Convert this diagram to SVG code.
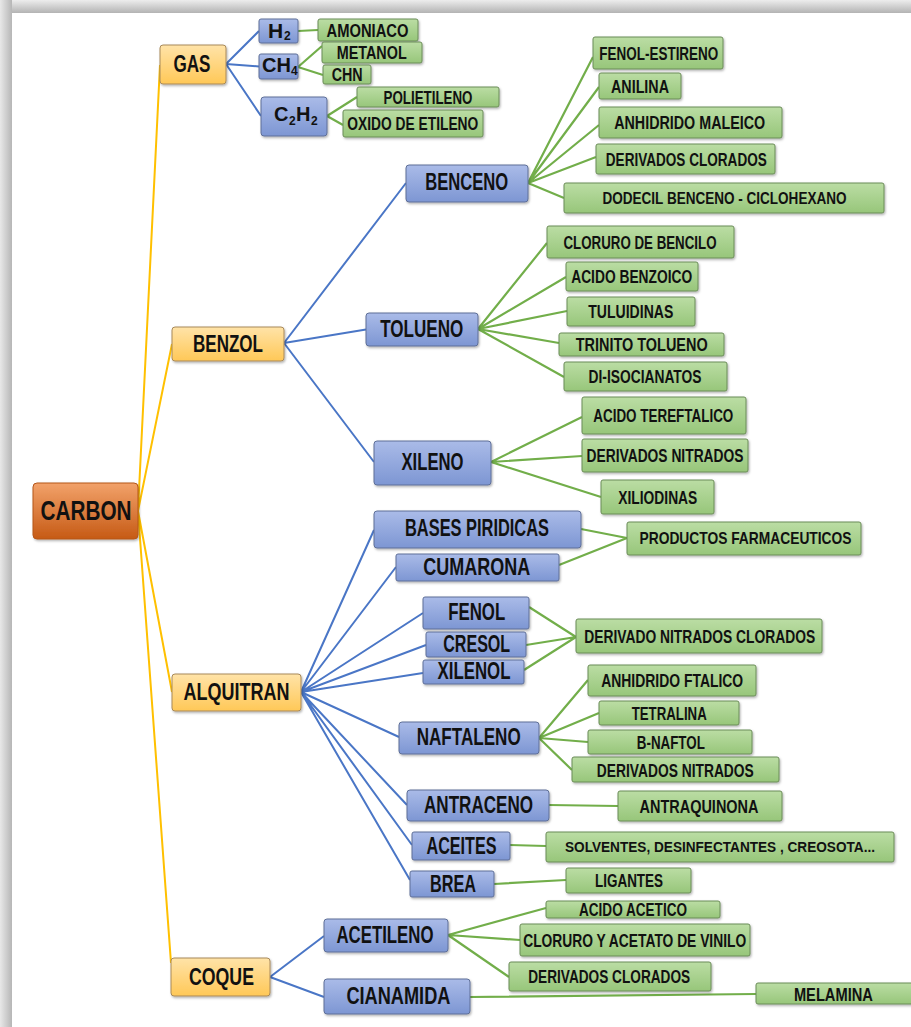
<svg xmlns="http://www.w3.org/2000/svg" width="911" height="1027" viewBox="0 0 911 1027">
<style>
.box{stroke-width:1;filter:url(#sh)}
.n0{fill:url(#g0);stroke:#B5561A}
.n1{fill:url(#g1);stroke:#A8895A}
.n2{fill:url(#g2);stroke:#5F6F98}
.n3{fill:url(#g3);stroke:#6B8C58}
text{font-family:"Liberation Sans Narrow","Liberation Sans",Arial,sans-serif;font-weight:700;fill:#111;text-anchor:middle;dominant-baseline:central}
text.st{text-anchor:start}
.t0{font-size:27px}
.t1{font-size:23px}
.t2{font-size:23px}
.t3{font-size:19px}
.ly{stroke:#FFC000;stroke-width:2;fill:none}
.lb{stroke:#4A76C6;stroke-width:2;fill:none}
.lg{stroke:#72AE4A;stroke-width:2.2;fill:none}
</style>
<defs>
<linearGradient id="g0" x1="0" y1="0" x2="0" y2="1"><stop offset="0" stop-color="#F2A26A"/><stop offset="1" stop-color="#C65A15"/></linearGradient>
<linearGradient id="g1" x1="0" y1="0" x2="0" y2="1"><stop offset="0" stop-color="#FFE3A8"/><stop offset="1" stop-color="#FFC857"/></linearGradient>
<linearGradient id="g2" x1="0" y1="0" x2="0" y2="1"><stop offset="0" stop-color="#AABBE8"/><stop offset="1" stop-color="#7D96D3"/></linearGradient>
<linearGradient id="g3" x1="0" y1="0" x2="0" y2="1"><stop offset="0" stop-color="#BBDDA4"/><stop offset="1" stop-color="#97C67A"/></linearGradient>
<linearGradient id="bt" x1="0" y1="0" x2="0" y2="1"><stop offset="0" stop-color="#EDEDED"/><stop offset="1" stop-color="#B3B3B3"/></linearGradient>
<linearGradient id="bl" x1="0" y1="0" x2="1" y2="0"><stop offset="0" stop-color="#E8E8E8"/><stop offset="1" stop-color="#B6B6B6"/></linearGradient>
<filter id="sh" x="-10%" y="-20%" width="130%" height="150%"><feDropShadow dx="1" dy="1.5" stdDeviation="1" flood-color="#000" flood-opacity="0.3"/></filter>
</defs>
<rect x="0" y="0" width="911" height="1027" fill="#fff"/>
<rect x="0" y="0" width="911" height="13" fill="url(#bt)"/>
<rect x="0" y="0" width="12" height="1027" fill="url(#bl)"/>

<g id="connectors">
<path class="ly" d="M138 511L160 65M138 511L172 344M138 511L172 692M138 511L171 963"/>
<path class="lb" d="M226 64L259 31M226 64L259 66.5M226 64L261 116"/>
<path class="lb" d="M284 343L406 183M284 343L366 329.5M284 343L374 462"/>
<path class="lb" d="M301 692L374 530M301 692L396 567M301 692L423 613M301 692L426 645M301 692L423 673M301 692L399 737M301 692L407 805M301 692L412 845M301 692L410 880"/>
<path class="lb" d="M270 977L324 936M270 977L324 997"/>
<path class="lg" d="M298 31L318 30M298 67L322 46M298 67L323 75M327 116L357 97M327 116L343 125"/>
<path class="lg" d="M528 183L593 57M528 183L599 87M528 183L599 125M528 183L596 157M528 183L564 198"/>
<path class="lg" d="M478 329L547 243M478 329L566 277M478 329L567 311M478 329L559 343M478 329L564 377"/>
<path class="lg" d="M491 462L582 417M491 462L582 456M491 462L601 497"/>
<path class="lg" d="M581 529L627 538M559 565L627 538"/>
<path class="lg" d="M529 607L576 637M526 645L576 637M524 670L576 637"/>
<path class="lg" d="M539 738L588 680M539 738L599 713M539 738L588 742M539 738L572 770"/>
<path class="lg" d="M549 805L618 806M510 845L546 846M494 884L566 880"/>
<path class="lg" d="M448 935L546 908M448 935L520 940M448 935L509 977M470 997L756 994"/>
</g>

<g id="carbon"><rect class="box n0" x="33" y="483" width="105" height="56" rx="4"/><text class="t0" x="86" y="511" textLength="91" lengthAdjust="spacingAndGlyphs">CARBON</text></g>

<g id="gas"><rect class="box n1" x="160" y="45" width="66" height="39" rx="3"/><text class="t1" x="192" y="64" textLength="37" lengthAdjust="spacingAndGlyphs">GAS</text></g>
<g id="benzol"><rect class="box n1" x="172" y="327" width="112" height="34" rx="3"/><text class="t1" x="228" y="344" textLength="70" lengthAdjust="spacingAndGlyphs">BENZOL</text></g>
<g id="alquitran"><rect class="box n1" x="172" y="674" width="129" height="37" rx="3"/><text class="t1" x="236.5" y="692" textLength="106" lengthAdjust="spacingAndGlyphs">ALQUITRAN</text></g>
<g id="coque"><rect class="box n1" x="171" y="958" width="99" height="38" rx="3"/><text class="t1" x="221.5" y="977" textLength="65" lengthAdjust="spacingAndGlyphs">COQUE</text></g>

<g id="h2"><rect class="box n2" x="259" y="19" width="39" height="24" rx="2"/><text class="st" x="268" y="30" font-size="21">H<tspan x="284" y="36" font-size="12">2</tspan></text></g>
<g id="ch4"><rect class="box n2" x="259" y="54" width="39" height="25" rx="2"/><text class="st" x="262" y="65" font-size="20">CH<tspan x="291" y="71" font-size="12">4</tspan></text></g>
<g id="c2h2"><rect class="box n2" x="261" y="97" width="66" height="39" rx="3"/><text class="st" x="274" y="114" font-size="20">C<tspan x="289" y="121" font-size="12">2</tspan><tspan x="296" y="114">H</tspan><tspan x="311" y="121" font-size="12">2</tspan></text></g>
<g id="benceno"><rect class="box n2" x="406" y="165" width="122" height="37" rx="3"/><text class="t2" x="466.7" y="182" textLength="83" lengthAdjust="spacingAndGlyphs">BENCENO</text></g>
<g id="tolueno"><rect class="box n2" x="366" y="313" width="112" height="33" rx="3"/><text class="t2" x="421.7" y="329" textLength="83" lengthAdjust="spacingAndGlyphs">TOLUENO</text></g>
<g id="xileno"><rect class="box n2" x="374" y="441" width="117" height="44" rx="3"/><text class="t2" x="432.5" y="462" textLength="62" lengthAdjust="spacingAndGlyphs">XILENO</text></g>
<g id="bases"><rect class="box n2" x="374" y="511" width="207" height="37" rx="3"/><text class="t2" x="477" y="528" textLength="144" lengthAdjust="spacingAndGlyphs">BASES PIRIDICAS</text></g>
<g id="cumarona"><rect class="box n2" x="396" y="554" width="163" height="27" rx="2"/><text class="t2" x="476.7" y="567" textLength="107" lengthAdjust="spacingAndGlyphs">CUMARONA</text></g>
<g id="fenol"><rect class="box n2" x="423" y="597" width="106" height="32" rx="2"/><text class="t2" x="476.7" y="612" textLength="57" lengthAdjust="spacingAndGlyphs">FENOL</text></g>
<g id="cresol"><rect class="box n2" x="426" y="632" width="100" height="25" rx="2"/><text class="t2" x="476.7" y="644" textLength="67" lengthAdjust="spacingAndGlyphs">CRESOL</text></g>
<g id="xilenol"><rect class="box n2" x="423" y="660" width="101" height="24" rx="2"/><text class="t2" x="474" y="671" textLength="73" lengthAdjust="spacingAndGlyphs">XILENOL</text></g>
<g id="naftaleno"><rect class="box n2" x="399" y="722" width="140" height="32" rx="3"/><text class="t2" x="468.7" y="737" textLength="104" lengthAdjust="spacingAndGlyphs">NAFTALENO</text></g>
<g id="antraceno"><rect class="box n2" x="407" y="790" width="142" height="31" rx="3"/><text class="t2" x="478.5" y="805" textLength="109" lengthAdjust="spacingAndGlyphs">ANTRACENO</text></g>
<g id="aceites"><rect class="box n2" x="412" y="832" width="98" height="28" rx="2"/><text class="t2" x="461.5" y="845.5" textLength="70" lengthAdjust="spacingAndGlyphs">ACEITES</text></g>
<g id="brea"><rect class="box n2" x="410" y="871" width="84" height="26" rx="2"/><text class="t2" x="453" y="884" textLength="46" lengthAdjust="spacingAndGlyphs">BREA</text></g>
<g id="acetileno"><rect class="box n2" x="324" y="919" width="124" height="33" rx="3"/><text class="t2" x="385" y="935" textLength="97" lengthAdjust="spacingAndGlyphs">ACETILENO</text></g>
<g id="cianamida"><rect class="box n2" x="324" y="979" width="146" height="35" rx="3"/><text class="t2" x="398.4" y="996" textLength="104" lengthAdjust="spacingAndGlyphs">CIANAMIDA</text></g>

<g id="amoniaco"><rect class="box n3" x="318" y="19" width="100" height="22" rx="2"/><text class="t3" x="367.5" y="30" textLength="82" lengthAdjust="spacingAndGlyphs">AMONIACO</text></g>
<g id="metanol"><rect class="box n3" x="322" y="42" width="100" height="21" rx="2"/><text class="t3" x="371.7" y="52.5" textLength="70" lengthAdjust="spacingAndGlyphs">METANOL</text></g>
<g id="chn"><rect class="box n3" x="323" y="65" width="48" height="19" rx="2"/><text class="t3" x="347.2" y="74.5" textLength="31" lengthAdjust="spacingAndGlyphs">CHN</text></g>
<g id="polietileno"><rect class="box n3" x="357" y="87" width="142" height="20" rx="2"/><text class="t3" x="428" y="97.5" textLength="89" lengthAdjust="spacingAndGlyphs">POLIETILENO</text></g>
<g id="oxido"><rect class="box n3" x="343" y="110" width="140" height="27" rx="2"/><text class="t3" x="412.8" y="123.5" textLength="131" lengthAdjust="spacingAndGlyphs">OXIDO DE ETILENO</text></g>
<g id="fenol-estireno"><rect class="box n3" x="593" y="37" width="130" height="32" rx="2"/><text class="t3" x="658.8" y="53" textLength="119" lengthAdjust="spacingAndGlyphs">FENOL-ESTIRENO</text></g>
<g id="anilina"><rect class="box n3" x="599" y="73" width="82" height="26" rx="2"/><text class="t3" x="640" y="86" textLength="58" lengthAdjust="spacingAndGlyphs">ANILINA</text></g>
<g id="anhidrido-maleico"><rect class="box n3" x="599" y="107" width="183" height="31" rx="2"/><text class="t3" x="689.7" y="122.5" textLength="151" lengthAdjust="spacingAndGlyphs">ANHIDRIDO MALEICO</text></g>
<g id="derivados-clorados-1"><rect class="box n3" x="596" y="144" width="179" height="30" rx="2"/><text class="t3" x="686.3" y="159" textLength="161" lengthAdjust="spacingAndGlyphs">DERIVADOS CLORADOS</text></g>
<g id="dodecil"><rect class="box n3" x="564" y="183" width="320" height="30" rx="2"/><text x="724.5" y="198" font-size="17" textLength="244" lengthAdjust="spacingAndGlyphs">DODECIL BENCENO - CICLOHEXANO</text></g>
<g id="cloruro-bencilo"><rect class="box n3" x="547" y="226" width="187" height="32" rx="2"/><text class="t3" x="640" y="242" textLength="153" lengthAdjust="spacingAndGlyphs">CLORURO DE BENCILO</text></g>
<g id="acido-benzoico"><rect class="box n3" x="566" y="262" width="132" height="29" rx="2"/><text class="t3" x="631.7" y="276" textLength="121" lengthAdjust="spacingAndGlyphs">ACIDO BENZOICO</text></g>
<g id="tuluidinas"><rect class="box n3" x="567" y="297" width="128" height="29" rx="2"/><text class="t3" x="630.8" y="311.5" textLength="85" lengthAdjust="spacingAndGlyphs">TULUIDINAS</text></g>
<g id="trinito"><rect class="box n3" x="559" y="333" width="165" height="23" rx="2"/><text class="t3" x="641.7" y="344.5" textLength="132" lengthAdjust="spacingAndGlyphs">TRINITO TOLUENO</text></g>
<g id="di-isocianatos"><rect class="box n3" x="564" y="362" width="163" height="29" rx="2"/><text class="t3" x="645" y="376" textLength="113" lengthAdjust="spacingAndGlyphs">DI-ISOCIANATOS</text></g>
<g id="acido-tereftalico"><rect class="box n3" x="582" y="397" width="164" height="37" rx="2"/><text class="t3" x="663.3" y="415.5" textLength="140" lengthAdjust="spacingAndGlyphs">ACIDO TEREFTALICO</text></g>
<g id="derivados-nitrados-1"><rect class="box n3" x="582" y="439" width="166" height="33" rx="2"/><text class="t3" x="665" y="455.5" textLength="157" lengthAdjust="spacingAndGlyphs">DERIVADOS NITRADOS</text></g>
<g id="xiliodinas"><rect class="box n3" x="601" y="480" width="113" height="34" rx="2"/><text class="t3" x="657.8" y="497" textLength="79" lengthAdjust="spacingAndGlyphs">XILIODINAS</text></g>
<g id="productos"><rect class="box n3" x="627" y="522" width="234" height="33" rx="2"/><text x="745.5" y="538.5" font-size="17" textLength="212" lengthAdjust="spacingAndGlyphs">PRODUCTOS FARMACEUTICOS</text></g>
<g id="derivado-nc"><rect class="box n3" x="576" y="619" width="246" height="34" rx="2"/><text class="t3" x="699.7" y="636" textLength="231" lengthAdjust="spacingAndGlyphs">DERIVADO NITRADOS CLORADOS</text></g>
<g id="anhidrido-ftalico"><rect class="box n3" x="588" y="665" width="168" height="31" rx="2"/><text class="t3" x="672.2" y="680.5" textLength="142" lengthAdjust="spacingAndGlyphs">ANHIDRIDO FTALICO</text></g>
<g id="tetralina"><rect class="box n3" x="599" y="701" width="140" height="24" rx="2"/><text class="t3" x="669.2" y="713" textLength="75" lengthAdjust="spacingAndGlyphs">TETRALINA</text></g>
<g id="b-naftol"><rect class="box n3" x="588" y="730" width="164" height="24" rx="2"/><text class="t3" x="670.8" y="742" textLength="68" lengthAdjust="spacingAndGlyphs">B-NAFTOL</text></g>
<g id="derivados-nitrados-2"><rect class="box n3" x="572" y="757" width="207" height="25" rx="2"/><text class="t3" x="675.3" y="770" textLength="157" lengthAdjust="spacingAndGlyphs">DERIVADOS NITRADOS</text></g>
<g id="antraquinona"><rect class="box n3" x="618" y="791" width="164" height="30" rx="2"/><text class="t3" x="699" y="806" textLength="119" lengthAdjust="spacingAndGlyphs">ANTRAQUINONA</text></g>
<g id="solventes"><rect class="box n3" x="546" y="832" width="348" height="30" rx="2"/><text x="720" y="847" font-size="14.5" textLength="310" lengthAdjust="spacingAndGlyphs">SOLVENTES, DESINFECTANTES , CREOSOTA...</text></g>
<g id="ligantes"><rect class="box n3" x="566" y="868" width="125" height="25" rx="2"/><text class="t3" x="629" y="880" textLength="68" lengthAdjust="spacingAndGlyphs">LIGANTES</text></g>
<g id="acido-acetico"><rect class="box n3" x="546" y="901" width="174" height="17" rx="2"/><text class="t3" x="633" y="909" textLength="108" lengthAdjust="spacingAndGlyphs">ACIDO ACETICO</text></g>
<g id="cloruro-acetato"><rect class="box n3" x="520" y="924" width="230" height="32" rx="2"/><text class="t3" x="634.7" y="940" textLength="223" lengthAdjust="spacingAndGlyphs">CLORURO Y ACETATO DE VINILO</text></g>
<g id="derivados-clorados-2"><rect class="box n3" x="509" y="962" width="202" height="29" rx="2"/><text class="t3" x="609.2" y="976.5" textLength="162" lengthAdjust="spacingAndGlyphs">DERIVADOS CLORADOS</text></g>
<g id="melamina"><rect class="box n3" x="756" y="983" width="160" height="21" rx="2"/><text class="t3" x="833.4" y="994" textLength="79" lengthAdjust="spacingAndGlyphs">MELAMINA</text></g>
</svg>
